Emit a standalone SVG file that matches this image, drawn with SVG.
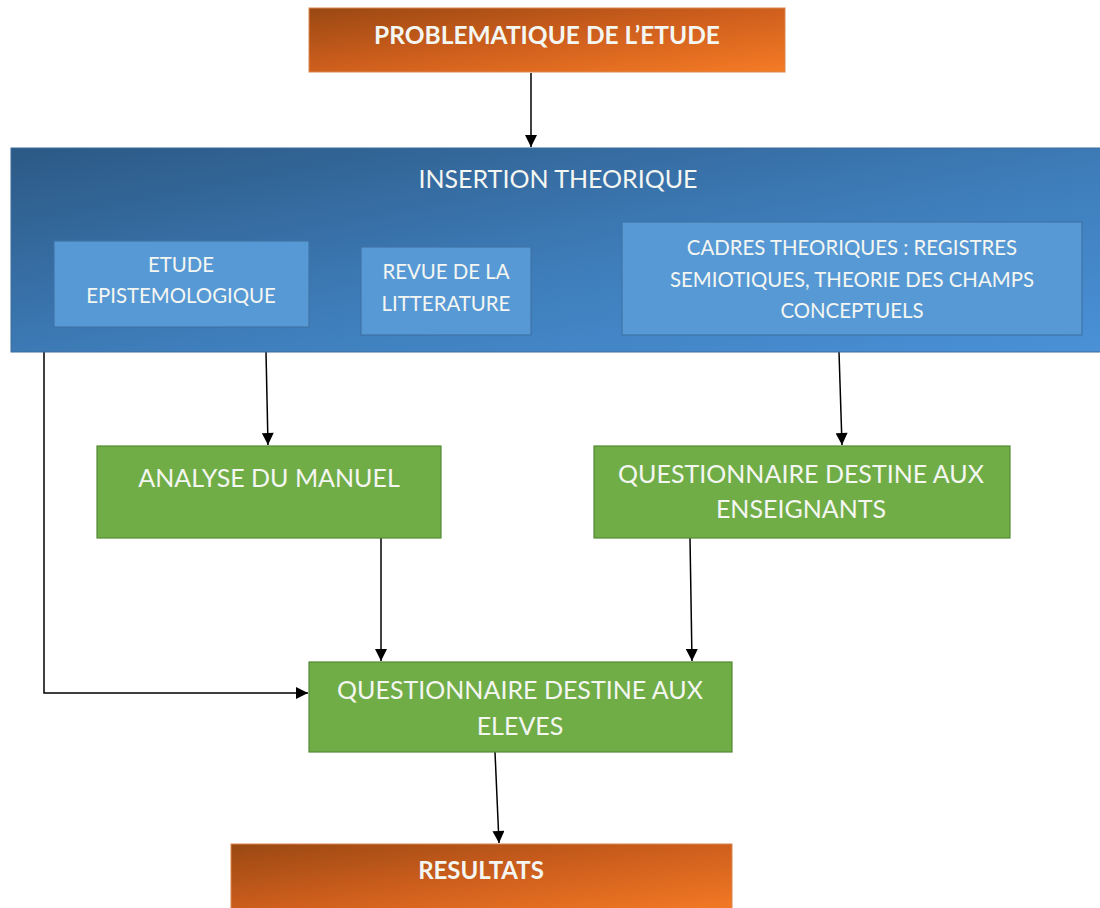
<svg xmlns="http://www.w3.org/2000/svg" width="1100" height="908" viewBox="0 0 1100 908">
<defs>
<linearGradient id="gOrange" x1="0" y1="0" x2="1" y2="1">
<stop offset="0" stop-color="#9a4813"/>
<stop offset="0.5" stop-color="#cf5f1d"/>
<stop offset="1" stop-color="#f57b25"/>
</linearGradient>
<linearGradient id="gBlue" x1="0" y1="0" x2="1" y2="1">
<stop offset="0" stop-color="#2c5985"/>
<stop offset="0.55" stop-color="#3e7dba"/>
<stop offset="1" stop-color="#4a91d7"/>
</linearGradient>
<marker id="arr" viewBox="0 0 12 12" refX="12" refY="6" markerWidth="13" markerHeight="12" markerUnits="userSpaceOnUse" orient="auto">
<path d="M0,0 L12,6 L0,12 z" fill="#000"/>
</marker>
</defs>
<style>
.orange{fill:url(#gOrange);stroke:#d9864f;stroke-width:1}
.outer{fill:url(#gBlue);stroke:#3a6c9c;stroke-width:1}
.inner{fill:#5799d5;stroke:#3f73a6;stroke-width:1.2}
.green{fill:#70ad47;stroke:#548a35;stroke-width:1.2}
text{font-family:Lato,"Liberation Sans",sans-serif;fill:#f4f6f2;text-anchor:middle}
.t24{font-size:25px}
.t20{font-size:20.4px}
.b{font-weight:bold;font-size:24.5px}
.conn line,.conn polyline{stroke:#000;stroke-width:1.5;fill:none}
</style>
<rect width="1100" height="908" fill="#fff"/>
<g class="conn">
<line x1="531" y1="73" x2="531" y2="147" marker-end="url(#arr)"/>
<line x1="266" y1="352" x2="268" y2="445" marker-end="url(#arr)"/>
<line x1="839" y1="352" x2="842" y2="445" marker-end="url(#arr)"/>
<polyline points="44,352 44,693 308,693" marker-end="url(#arr)"/>
<line x1="381" y1="538" x2="381" y2="661" marker-end="url(#arr)"/>
<line x1="690" y1="538" x2="692" y2="661" marker-end="url(#arr)"/>
<line x1="495" y1="752" x2="499" y2="843" marker-end="url(#arr)"/>
</g>
<g id="problematique">
<rect class="orange" x="309" y="8" width="476" height="64"/>
<text class="b" x="547" y="44">PROBLEMATIQUE DE L’ETUDE</text>
</g>
<g id="insertion">
<rect class="outer" x="11" y="148" width="1092" height="204"/>
<text class="t24" x="558" y="188">INSERTION THEORIQUE</text>
</g>
<g id="etude">
<rect class="inner" x="54" y="241" width="255" height="86"/>
<text class="t20" x="181" y="272">ETUDE</text>
<text class="t20" x="181" y="303">EPISTEMOLOGIQUE</text>
</g>
<g id="revue">
<rect class="inner" x="361" y="247" width="170" height="88"/>
<text class="t20" x="446" y="279">REVUE DE LA</text>
<text class="t20" x="446" y="311">LITTERATURE</text>
</g>
<g id="cadres">
<rect class="inner" x="622" y="222" width="460" height="113"/>
<text class="t20" x="852" y="255">CADRES THEORIQUES : REGISTRES</text>
<text class="t20" x="852" y="287">SEMIOTIQUES, THEORIE DES CHAMPS</text>
<text class="t20" x="852" y="318">CONCEPTUELS</text>
</g>
<g id="analyse">
<rect class="green" x="97" y="446" width="344" height="92"/>
<text class="t24" x="269" y="487">ANALYSE DU MANUEL</text>
</g>
<g id="enseignants">
<rect class="green" x="594" y="446" width="416" height="92"/>
<text class="t24" x="801" y="483">QUESTIONNAIRE DESTINE AUX</text>
<text class="t24" x="801" y="518">ENSEIGNANTS</text>
</g>
<g id="eleves">
<rect class="green" x="309" y="662" width="423" height="90"/>
<text class="t24" x="520" y="699">QUESTIONNAIRE DESTINE AUX</text>
<text class="t24" x="520" y="735">ELEVES</text>
</g>
<g id="resultats">
<rect class="orange" x="231" y="844" width="501" height="70"/>
<text class="b" x="481" y="879" style="font-size:24px">RESULTATS</text>
</g>
</svg>
